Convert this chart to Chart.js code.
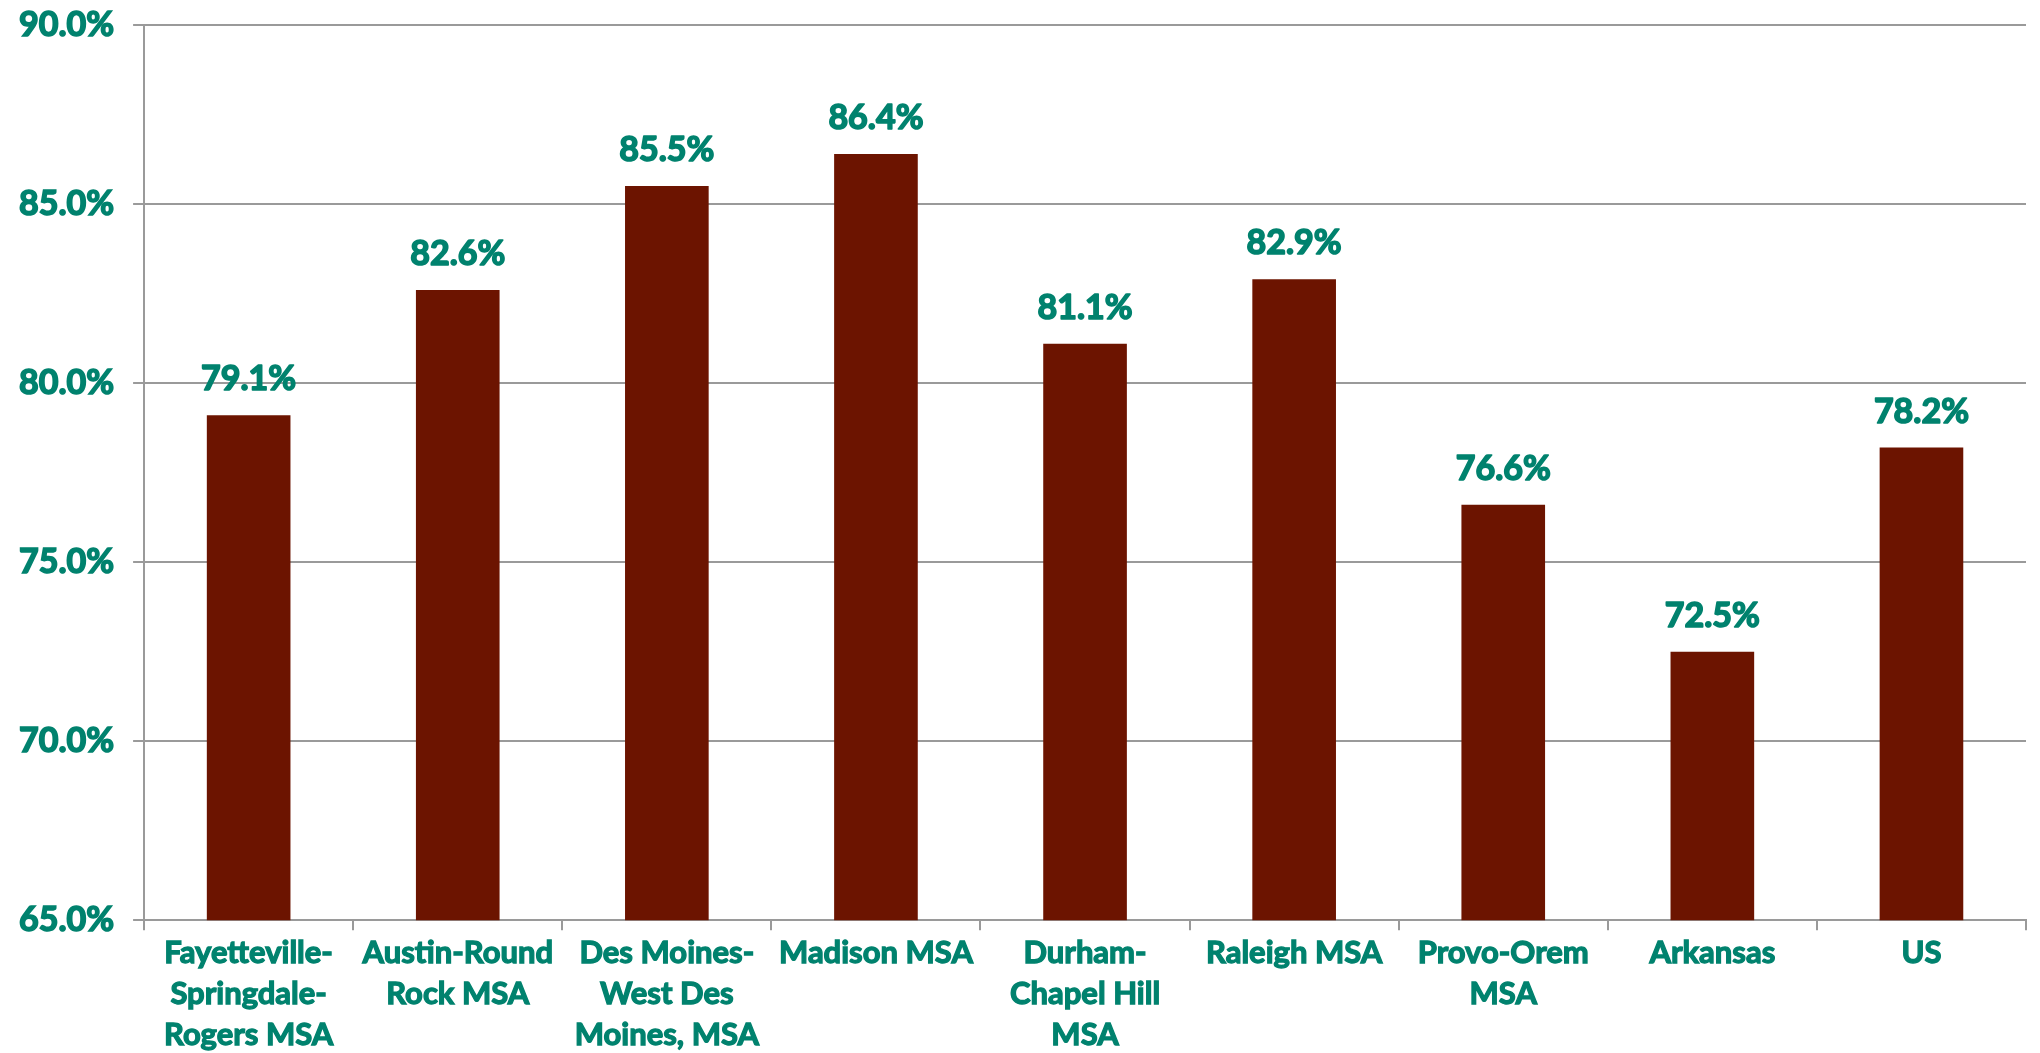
<!DOCTYPE html>
<html>
<head>
<meta charset="utf-8">
<script src="https://cdn.jsdelivr.net/npm/chart.js@4.4.1/dist/chart.umd.min.js"></script>
<style>
  html, body { margin: 0; padding: 0; background: #fff; }
  #wrap { width: 2040px; height: 1053px; }
</style>
</head>
<body>
<div id="wrap"><canvas id="rateChart"></canvas></div>
<script>
var areas = [
    ['Fayetteville-', 'Springdale-', 'Rogers MSA'],
    ['Austin-Round', 'Rock MSA'],
    ['Des Moines-', 'West Des', 'Moines, MSA'],
    'Madison MSA',
    ['Durham-', 'Chapel Hill', 'MSA'],
    'Raleigh MSA',
    ['Provo-Orem', 'MSA'],
    'Arkansas',
    'US'
];
var rates = [79.1, 82.6, 85.5, 86.4, 81.1, 82.9, 76.6, 72.5, 78.2];
var yTicks = [65, 70, 75, 80, 85, 90];

var teal = '#00826E';
var maroon = '#6C1400';
var gridGrey = '#9A9A9A';

// value labels above each bar
var barLabels = {
    id: 'barLabels',
    afterDatasetsDraw: function (chart) {
        var ctx = chart.ctx;
        var meta = chart.getDatasetMeta(0);
        ctx.save();
        ctx.font = 'bold 34px Lato';
        ctx.fillStyle = teal;
        ctx.strokeStyle = teal;
        ctx.lineWidth = 1.6;
        ctx.lineJoin = 'round';
        ctx.textAlign = 'center';
        ctx.textBaseline = 'alphabetic';
        meta.data.forEach(function (bar, i) {
            var txt = rates[i].toFixed(1) + '%';
            ctx.strokeText(txt, bar.x, bar.y - 25);
            ctx.fillText(txt, bar.x, bar.y - 25);
        });
        ctx.restore();
    }
};

var ctx = document.getElementById('rateChart').getContext('2d');
var rateChart = new Chart(ctx, {
    type: 'bar',
    data: {
        labels: areas,
        datasets: [{
            data: rates,
            backgroundColor: maroon,
            borderWidth: 0,
            barPercentage: 0.4,
            categoryPercentage: 1.0
        }]
    },
    options: {
        responsive: true,
        maintainAspectRatio: false,
        animation: false,
        layout: { padding: { top: 0, right: 14, left: 0, bottom: -5 } },
        plugins: {
            legend: { display: false },
            tooltip: { enabled: false }
        },
        scales: {
            x: {
                grid: {
                    display: true,
                    drawOnChartArea: false,
                    drawTicks: true,
                    tickLength: 10,
                    color: gridGrey,
                    lineWidth: 2,
                    offset: true
                },
                border: { color: gridGrey, width: 2 },
                ticks: {
                    color: teal,
                    textStrokeColor: teal,
                    textStrokeWidth: 1.3,
                    font: { family: 'Lato', weight: 'bold', size: 31, lineHeight: 1.33 },
                    padding: 2,
                    maxRotation: 0,
                    autoSkip: false
                }
            },
            y: {
                min: yTicks[0],
                max: yTicks[yTicks.length - 1],
                afterBuildTicks: function (axis) {
                    axis.ticks = yTicks.map(function (v) { return { value: v }; });
                },
                grid: {
                    color: gridGrey,
                    lineWidth: 2,
                    tickLength: 11
                },
                border: { color: gridGrey, width: 2 },
                ticks: {
                    color: teal,
                    textStrokeColor: teal,
                    textStrokeWidth: 1.6,
                    font: { family: 'Lato', weight: 'bold', size: 34, lineHeight: 0.35 },
                    padding: 19,
                    callback: function (v) { return v.toFixed(1) + '%'; }
                }
            }
        }
    },
    plugins: [barLabels]
});
</script>
</body>
</html>
